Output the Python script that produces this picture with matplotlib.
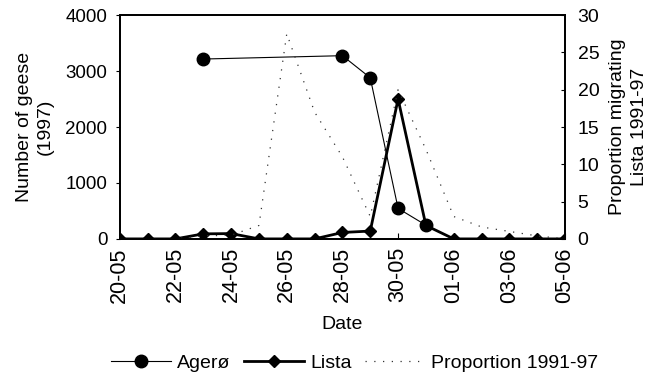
import matplotlib
matplotlib.use("Agg")
import matplotlib.pyplot as plt
import numpy as np

plt.rcParams['font.family'] = ['Liberation Sans', 'DejaVu Sans']

# datas (dia-mes), 20-05 a 05-06
datas = ["20-05", "21-05", "22-05", "23-05", "24-05", "25-05", "26-05", "27-05",
         "28-05", "29-05", "30-05", "31-05", "01-06", "02-06", "03-06", "04-06", "05-06"]

# Agerø: só dias com contagem
agero_datas = ["23-05", "28-05", "29-05", "30-05", "31-05"]
agero_gansos = [3215, 3275, 2880, 545, 245]

# Lista (1997)
lista_gansos = [0, 0, 0, 90, 95, 0, 0, 0, 115, 140, 2500, 240, 0, 0, 0, 0, 0]

# proporção migrando em Lista 1991-97 (%)
proporcao = [0, 0, 0, 0.4, 0.5, 1.8, 27.5, 17, 11, 3, 20, 12, 3, 1.6, 1.0, 0.4, 0]

x = np.arange(len(datas))
x_agero = [datas.index(d) for d in agero_datas]

fig = plt.figure(figsize=(6.51, 3.78), dpi=100)
ax = fig.add_axes([0.184, 0.368, 0.684, 0.592])
ax2 = ax.twinx()

l1, = ax.plot(x_agero, agero_gansos, color='black', lw=0.8, marker='o', ms=9, label='Agerø')
l2, = ax.plot(x, lista_gansos, color='black', lw=2, marker='D', ms=6.5, label='Lista')
l3, = ax2.plot(x, proporcao, color='#333333', lw=0.9, ls=(0, (1, 6)), label='Proportion 1991-97')

ax.set_xlim(0, 16)
ax.set_ylim(0, 4000)
ax.set_yticks([0, 1000, 2000, 3000, 4000])
ax2.set_ylim(0, 30)
ax2.set_yticks(range(0, 31, 5))

ax.set_xticks(x[::2])
ax.set_xticklabels(datas[::2], rotation=90)

ax.tick_params(axis='x', direction='in', length=4, labelsize=15.5, pad=6)
ax.tick_params(axis='y', direction='out', length=3, labelsize=13.5, pad=6)
ax2.tick_params(axis='y', direction='in', length=3, labelsize=14, pad=9)

for a in (ax, ax2):
    for s in a.spines.values():
        s.set_linewidth(1.3)

ax.set_xlabel('Date', fontsize=14, labelpad=10)
ax.set_ylabel('Number of geese\n(1997)', fontsize=14, linespacing=1.35, labelpad=8)
ax2.set_ylabel('Proportion migrating\nLista 1991-97', fontsize=14, linespacing=1.4, labelpad=7)

fig.legend(handles=[l1, l2, l3], loc='lower center', bbox_to_anchor=(0.545, -0.03),
           ncol=3, frameon=False, fontsize=14, handlelength=3.1, columnspacing=0.7,
           handletextpad=0.3)

plt.savefig("out.png", dpi=100)
